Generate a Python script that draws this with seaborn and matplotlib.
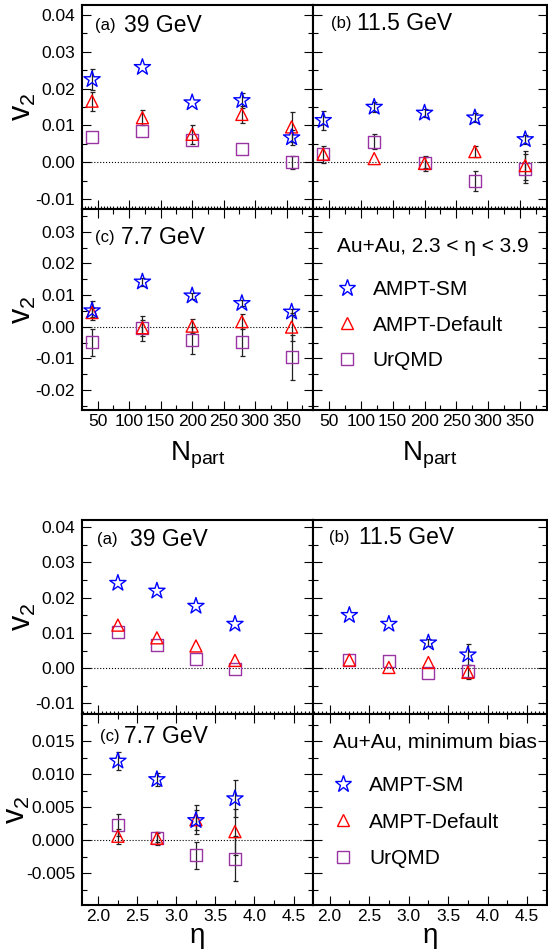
import numpy as np
import pandas as pd
import matplotlib
matplotlib.use("Agg")
import matplotlib.pyplot as plt
import seaborn as sns
from matplotlib.lines import Line2D
from matplotlib.ticker import MultipleLocator, FormatStrFormatter

# ---- data: v2 vs Npart (2.3 < eta < 3.9) ----
npart = [41, 121, 200, 279, 358]

np39_sm = [0.0225, 0.0258, 0.0162, 0.0168, 0.0067]
np39_sm_err = [0.0028, 0.0, 0.0, 0.0021, 0.0020]
np39_def = [0.0166, 0.0121, 0.0076, 0.0130, 0.0096]
np39_def_err = [0.0026, 0.0020, 0.0026, 0.0024, 0.0040]
np39_urqmd = [0.0069, 0.0085, 0.0060, 0.0035, 0.0000]
np39_urqmd_err = [0.0, 0.0, 0.0, 0.0, 0.0017]

np115_sm = [0.0114, 0.0150, 0.0134, 0.0121, 0.0062]
np115_sm_err = [0.0026, 0.0013, 0.0012, 0.0012, 0.0012]
np115_def = [0.0022, 0.0010, -0.0003, 0.0029, -0.0009]
np115_def_err = [0.0023, 0.0, 0.0020, 0.0015, 0.0040]
np115_urqmd = [0.0023, 0.0056, -0.0001, -0.0052, -0.0017]
np115_urqmd_err = [0.0, 0.0020, 0.0015, 0.0027, 0.0040]

np77_sm = [0.0051, 0.0142, 0.0098, 0.0074, 0.0047]
np77_sm_err = [0.0029, 0.0012, 0.0010, 0.0010, 0.0010]
np77_def = [0.0045, -0.0003, 0.0002, 0.0016, -0.0001]
np77_def_err = [0.0015, 0.0025, 0.0022, 0.0024, 0.0045]
np77_urqmd = [-0.0049, -0.0005, -0.0043, -0.0047, -0.0097]
np77_urqmd_err = [0.0043, 0.0040, 0.0042, 0.0045, 0.0070]

# ---- data: v2 vs eta (minimum bias) ----
eta = [2.25, 2.75, 3.25, 3.75]

eta39_sm = [0.0241, 0.0219, 0.0176, 0.0125]
eta39_sm_err = [0.0, 0.0, 0.0, 0.0]
eta39_def = [0.0122, 0.0086, 0.0063, 0.0022]
eta39_def_err = [0.0, 0.0, 0.0, 0.0]
eta39_urqmd = [0.0103, 0.0066, 0.0025, -0.0003]
eta39_urqmd_err = [0.0, 0.0, 0.0, 0.0]

eta115_sm = [0.0150, 0.0125, 0.0072, 0.0038]
eta115_sm_err = [0.0, 0.0, 0.0010, 0.0030]
eta115_def = [0.0023, 0.0002, 0.0016, -0.0012]
eta115_def_err = [0.0, 0.0, 0.0, 0.0020]
eta115_urqmd = [0.0023, 0.0019, -0.0014, -0.0008]
eta115_urqmd_err = [0.0, 0.0, 0.0, 0.0]

eta77_sm = [0.0120, 0.0092, 0.0030, 0.0063]
eta77_sm_err = [0.0013, 0.0010, 0.0015, 0.0028]
eta77_def = [0.0006, 0.0003, 0.0031, 0.0013]
eta77_def_err = [0.0011, 0.0010, 0.0022, 0.0035]
eta77_urqmd = [0.0023, 0.0004, -0.0023, -0.0028]
eta77_urqmd_err = [0.0016, 0.0007, 0.0021, 0.0034]

models = ["AMPT-SM", "AMPT-Default", "UrQMD"]
model_colors = {"AMPT-SM": "#0000ff", "AMPT-Default": "#ff0000", "UrQMD": "#9a33a3"}
model_markers = {"AMPT-SM": "*", "AMPT-Default": "^", "UrQMD": "s"}
model_sizes = {"AMPT-SM": 150, "AMPT-Default": 75, "UrQMD": 75}

sns.set_theme(style="ticks")
plt.rcParams["font.family"] = ["Liberation Sans", "DejaVu Sans"]
plt.rcParams["mathtext.fontset"] = "custom"
plt.rcParams["mathtext.rm"] = "Liberation Sans"
plt.rcParams["mathtext.it"] = "Liberation Sans"
plt.rcParams["xtick.direction"] = "in"
plt.rcParams["ytick.direction"] = "in"
plt.rcParams["axes.linewidth"] = 1.5
plt.rcParams["axes.edgecolor"] = "black"
plt.rcParams["text.color"] = "black"
plt.rcParams["axes.labelcolor"] = "black"
plt.rcParams["xtick.color"] = "black"
plt.rcParams["ytick.color"] = "black"


def make_frame(x, series):
    rows = []
    for model, (vals, errs) in zip(models, series):
        for xi, v, e in zip(x, vals, errs):
            rows.append({"x": xi, "v2": v, "err": e, "model": model})
    return pd.DataFrame(rows)


def draw_points(ax, df):
    ax.axhline(0, color="black", ls=":", lw=0.8, zorder=1)
    for model in ["UrQMD", "AMPT-Default", "AMPT-SM"]:
        sub = df[df["model"] == model]
        shown = sub[sub["err"] > 0]
        ax.errorbar(shown["x"], shown["v2"], yerr=shown["err"], fmt="none",
                    ecolor="#222222", elinewidth=0.9, capsize=1.8, capthick=0.9, zorder=2)
        sns.scatterplot(data=sub, x="x", y="v2", ax=ax, marker=model_markers[model],
                        s=model_sizes[model], color=model_colors[model],
                        facecolor="none", edgecolor=model_colors[model],
                        linewidth=1.0, legend=False, zorder=3)


def style_axes(ax, xlim, ylim, xmajor, xminor, ymajor, yminor, upper, left):
    ax.set_xlim(*xlim)
    ax.set_ylim(*ylim)
    ax.xaxis.set_major_locator(MultipleLocator(xmajor))
    ax.xaxis.set_minor_locator(MultipleLocator(xminor))
    ax.yaxis.set_major_locator(MultipleLocator(ymajor))
    ax.yaxis.set_minor_locator(MultipleLocator(yminor))
    ax.tick_params(axis="both", which="major", length=6.5, width=0.8, labelsize=12.5,
                   colors="black", right=True)
    ax.tick_params(axis="both", which="minor", length=3.5, width=0.8, right=True)
    ax.tick_params(axis="y", which="major", pad=5)
    ax.tick_params(axis="x", which="major", pad=3)
    if upper:
        ax.tick_params(axis="x", which="both", top=False, labelbottom=False)
        ax.tick_params(axis="x", which="minor", length=2.2)
    else:
        ax.tick_params(axis="x", which="both", top=True)
    if not left:
        ax.tick_params(axis="y", which="both", labelleft=False)
    ax.set_xlabel("")
    ax.set_ylabel("")
    for s in ax.spines.values():
        s.set_visible(True)
        s.set_linewidth(1.5)


def panel_label(ax, tag, energy, xtag, xen, y):
    ax.text(xtag, y, tag, transform=ax.transAxes, fontsize=12, va="center", ha="left")
    ax.text(xen, y, energy, transform=ax.transAxes, fontsize=16.5, va="center", ha="left")


def legend_panel(ax, title, xt, yt, lx, ly, spacing):
    ax.text(xt, yt, title, transform=ax.transAxes, fontsize=15, va="center", ha="left")
    handles = [Line2D([], [], ls="none", marker=model_markers[m], markersize=np.sqrt(model_sizes[m]),
                      markerfacecolor="none", markeredgecolor=model_colors[m], markeredgewidth=1.0)
               for m in models]
    ax.legend(handles, models, loc="upper left", bbox_to_anchor=(lx, ly), frameon=False,
              fontsize=15, borderpad=0, borderaxespad=0, handlelength=1.0,
              handletextpad=0.75, labelspacing=spacing)


fig = plt.figure(figsize=(5.48, 9.51), dpi=100)

x0, xm, x1 = 0.1496, 0.5712, 0.998
# upper figure (vs Npart)
ya0, ya1, ya2 = 0.5689, 0.7802, 0.9947
# lower figure (vs eta)
yb0, yb1, yb2 = 0.0484, 0.2492, 0.4532

np_lim = (25, 392)
eta_lim = (1.79, 4.75)

npart_panels = [
    ("(a)", "39 GeV", [(np39_sm, np39_sm_err), (np39_def, np39_def_err), (np39_urqmd, np39_urqmd_err)],
     [x0, ya1, xm - x0, ya2 - ya1], True, True, (-0.0127, 0.0427), 0.01, 0.005, (0.056, 0.18, 0.90)),
    ("(b)", "11.5 GeV", [(np115_sm, np115_sm_err), (np115_def, np115_def_err), (np115_urqmd, np115_urqmd_err)],
     [xm, ya1, x1 - xm, ya2 - ya1], True, False, (-0.0127, 0.0427), 0.01, 0.005, (0.076, 0.19, 0.91)),
    ("(c)", "7.7 GeV", [(np77_sm, np77_sm_err), (np77_def, np77_def_err), (np77_urqmd, np77_urqmd_err)],
     [x0, ya0, xm - x0, ya1 - ya0], False, True, (-0.0263, 0.0372), 0.01, 0.005, (0.056, 0.17, 0.86)),
]

for tag, energy, series, rect, upper, left, ylim, ymaj, ymin, lab in npart_panels:
    ax = fig.add_axes(rect)
    draw_points(ax, make_frame(npart, series))
    style_axes(ax, np_lim, ylim, 50, 5 if upper else 25, ymaj, ymin, upper, left)
    panel_label(ax, tag, energy, *lab)
    if left:
        ax.yaxis.set_major_formatter(FormatStrFormatter("%.2f"))
        ax.set_ylabel(r"$\mathrm{v_2}$", fontsize=22)
        ax.yaxis.set_label_coords(-0.19, 0.5)
    if not upper:
        ax.set_xlabel(r"$\mathrm{N_{part}}$", fontsize=20)
        ax.xaxis.set_label_coords(0.5, -0.15)

ax = fig.add_axes([xm, ya0, x1 - xm, ya1 - ya0])
style_axes(ax, np_lim, (-0.0263, 0.0372), 50, 25, 0.01, 0.005, False, False)
legend_panel(ax, "Au+Au, 2.3 < η < 3.9", 0.103, 0.815, 0.10, 0.645, 0.78)
ax.set_xlabel(r"$\mathrm{N_{part}}$", fontsize=20)
ax.xaxis.set_label_coords(0.5, -0.15)

eta_panels = [
    ("(a)", "39 GeV", [(eta39_sm, eta39_sm_err), (eta39_def, eta39_def_err), (eta39_urqmd, eta39_urqmd_err)],
     [x0, yb1, xm - x0, yb2 - yb1], True, True, (-0.013, 0.042), 0.01, 0.005, (0.065, 0.21, 0.90), "%.2f"),
    ("(b)", "11.5 GeV", [(eta115_sm, eta115_sm_err), (eta115_def, eta115_def_err), (eta115_urqmd, eta115_urqmd_err)],
     [xm, yb1, x1 - xm, yb2 - yb1], True, False, (-0.013, 0.042), 0.01, 0.005, (0.068, 0.195, 0.91), "%.2f"),
    ("(c)", "7.7 GeV", [(eta77_sm, eta77_sm_err), (eta77_def, eta77_def_err), (eta77_urqmd, eta77_urqmd_err)],
     [x0, yb0, xm - x0, yb1 - yb0], False, True, (-0.0098, 0.0191), 0.005, 0.0025, (0.078, 0.18, 0.88), "%.3f"),
]

for tag, energy, series, rect, upper, left, ylim, ymaj, ymin, lab, fmt in eta_panels:
    ax = fig.add_axes(rect)
    draw_points(ax, make_frame(eta, series))
    style_axes(ax, eta_lim, ylim, 0.5, 0.05 if upper else 0.25, ymaj, ymin, upper, left)
    panel_label(ax, tag, energy, *lab)
    if left:
        ax.yaxis.set_major_formatter(FormatStrFormatter(fmt))
        ax.set_ylabel(r"$\mathrm{v_2}$", fontsize=22)
        ax.yaxis.set_label_coords(-0.19 if upper else -0.215, 0.5)
    if not upper:
        ax.set_xlabel("η", fontsize=20)
        ax.xaxis.set_label_coords(0.5, -0.095)

ax = fig.add_axes([xm, yb0, x1 - xm, yb1 - yb0])
style_axes(ax, eta_lim, (-0.0098, 0.0191), 0.5, 0.25, 0.005, 0.0025, False, False)
legend_panel(ax, "Au+Au, minimum bias", 0.085, 0.853, 0.084, 0.675, 0.85)
ax.set_xlabel("η", fontsize=20)
ax.xaxis.set_label_coords(0.5, -0.095)

fig.savefig("out.png", dpi=100)
